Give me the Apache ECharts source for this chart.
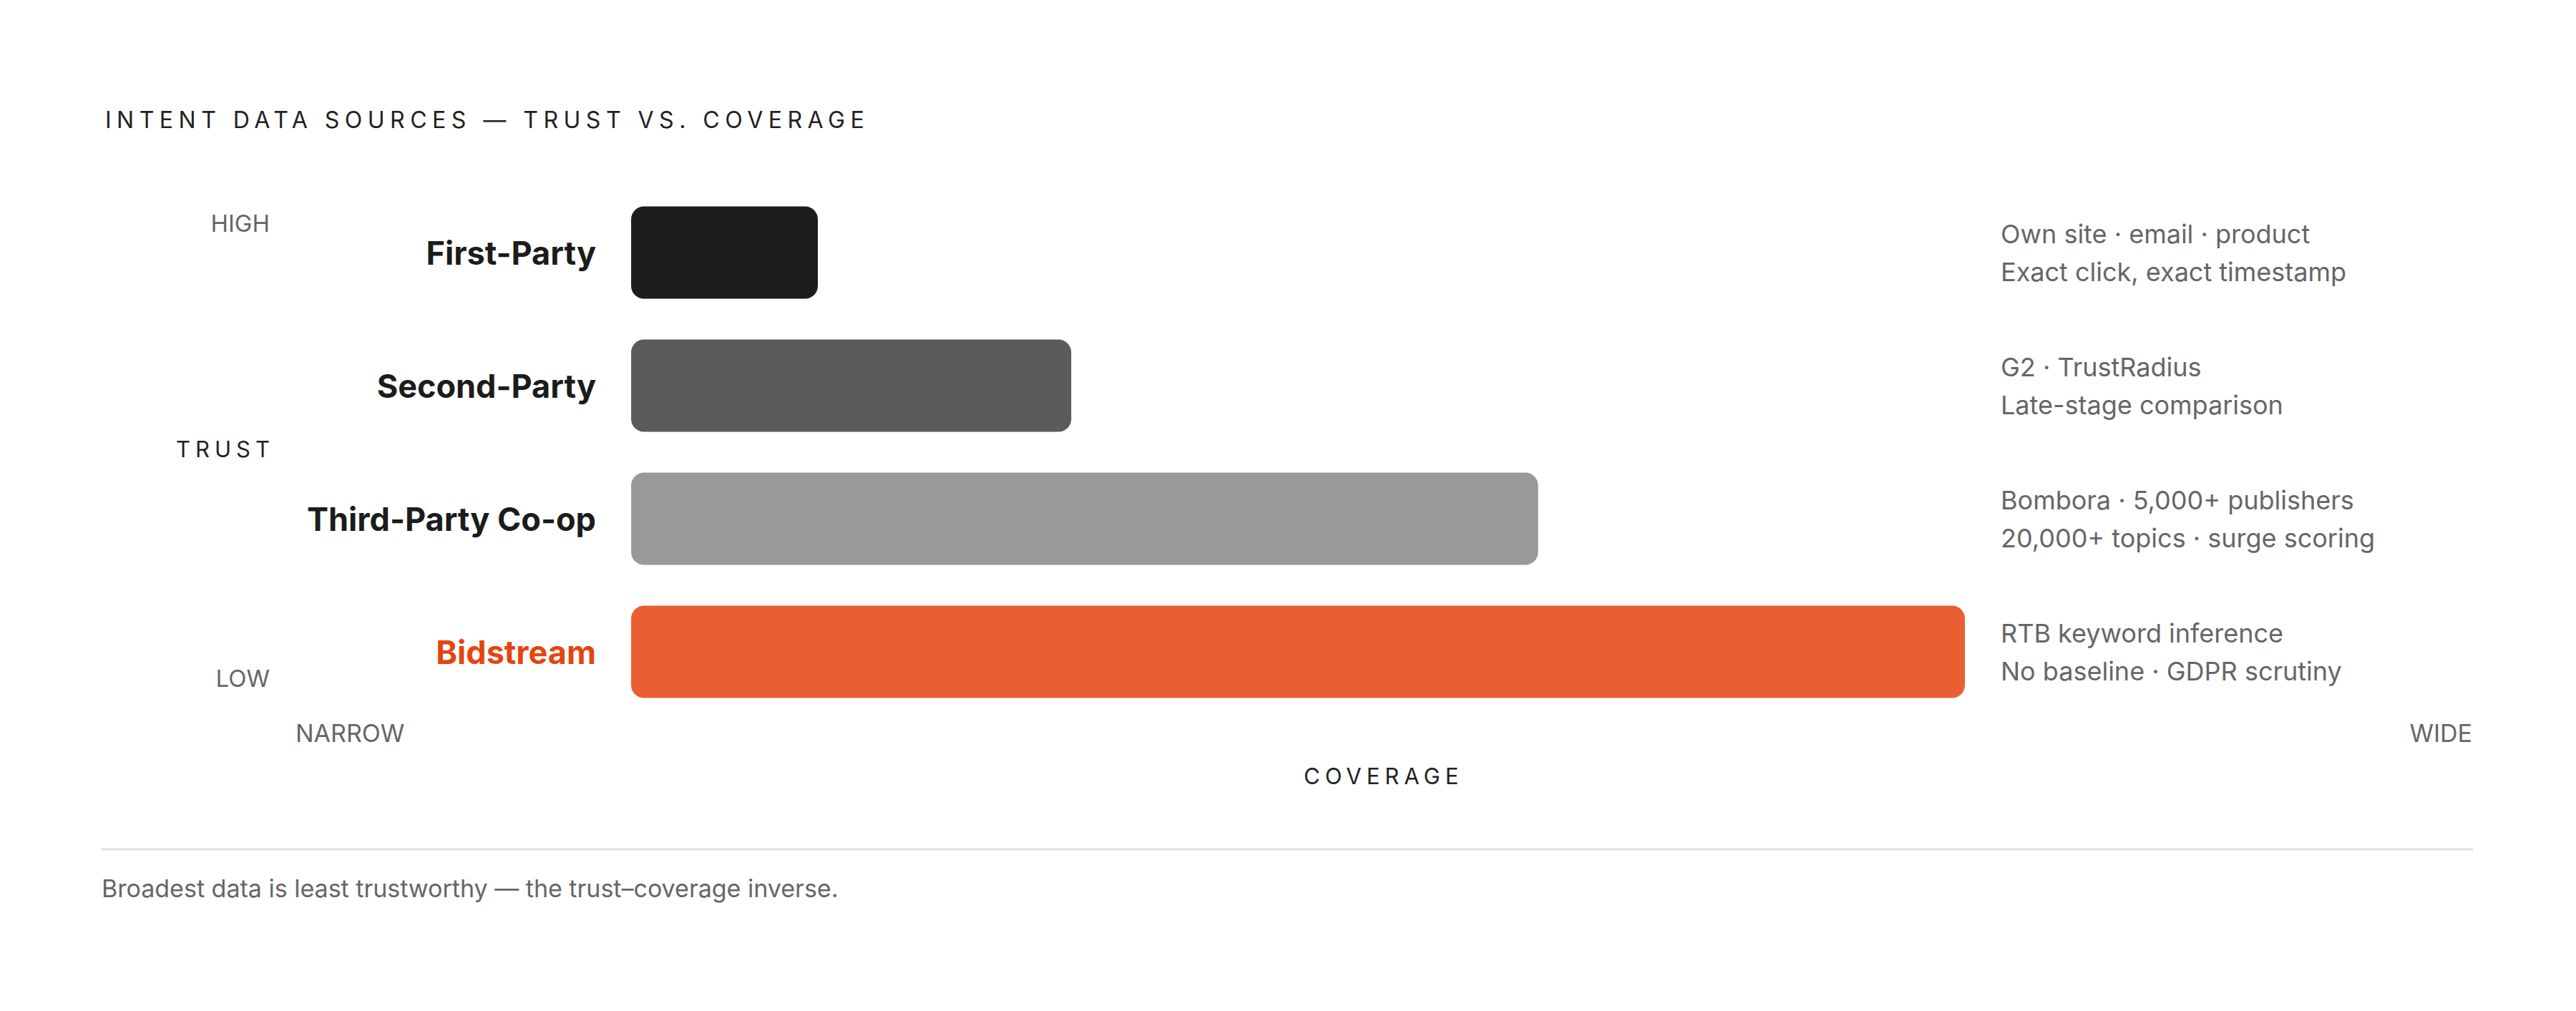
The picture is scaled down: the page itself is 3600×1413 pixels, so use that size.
<!DOCTYPE html>
<html>
<head>
<meta charset="utf-8">
<script src="https://cdn.jsdelivr.net/npm/echarts@6/dist/echarts.min.js"></script>
<style>
  html, body { margin: 0; padding: 0; background: #fff; }
  #main { width: 3600px; height: 1413px; }
</style>
</head>
<body>
<div id="main"></div>
<script>
// data
var sources = ['First-Party', 'Second-Party', 'Third-Party Co-op', 'Bidstream'];
var coverage = [14, 33, 68, 100];
var notesTop = ['Own site · email · product', 'G2 · TrustRadius', 'Bombora · 5,000+ publishers', 'RTB keyword inference'];
var notesBottom = ['Exact click, exact timestamp', 'Late-stage comparison', '20,000+ topics · surge scoring', 'No baseline · GDPR scrutiny'];

var barColors = ['#1e1d1c', '#5c5b5a', '#9a9998', '#e95f32'];
var FONT = 'Inter, "Noto Sans", sans-serif';
var TITLE = 'INTENT DATA SOURCES — TRUST VS. COVERAGE';

// tracked caps
var spaced = {};
spaced[TITLE] = '7.5px';
spaced['TRUST'] = '7px';
spaced['COVERAGE'] = '7px';

var myChart = echarts.init(document.getElementById('main'), null, { renderer: 'svg' });

var option = {
    animation: false,
    backgroundColor: '#ffffff',
    textStyle: { fontFamily: FONT },
    title: {
        text: TITLE,
        left: 142,
        top: 146,
        textStyle: { fontFamily: FONT, fontSize: 32, fontWeight: 'normal', color: '#222' }
    },
    grid: { left: 882, right: 854, top: 260, bottom: 1413 - 1004 },
    xAxis: {
        type: 'value',
        min: 0,
        max: 100,
        show: false
    },
    yAxis: [{
        type: 'category',
        data: sources,
        inverse: true,
        axisLine: { show: false },
        axisTick: { show: false },
        splitLine: { show: false },
        axisLabel: {
            margin: 49,
            fontFamily: FONT,
            fontSize: 45,
            fontWeight: 'bold',
            color: '#1c1c1c',
            formatter: function (v) {
                return v === 'Bidstream' ? '{hl|' + v + '}' : v;
            },
            rich: {
                hl: { fontFamily: FONT, fontSize: 45, fontWeight: 'bold', color: '#e4450f' }
            }
        }
    }, {
        type: 'category',
        data: sources,
        inverse: true,
        position: 'right',
        axisLine: { show: false },
        axisTick: { show: false },
        splitLine: { show: false },
        axisLabel: {
            margin: 50,
            align: 'left',
            fontFamily: FONT,
            fontSize: 36,
            lineHeight: 53,
            color: '#666',
            formatter: function (v, i) {
                return notesTop[i] + '\n' + notesBottom[i];
            }
        }
    }],
    series: [{
        type: 'bar',
        data: coverage.map(function (v, i) {
            return { value: v, itemStyle: { color: barColors[i] } };
        }),
        barWidth: 129,
        itemStyle: { borderRadius: 18 },
        silent: true
    }],
    graphic: [
        { type: 'text', right: 3600 - 377, top: 295, style: { text: 'HIGH', font: '33px ' + FONT, fill: '#666' } },
        { type: 'text', right: 3600 - 377, top: 931, style: { text: 'LOW', font: '33px ' + FONT, fill: '#666' } },
        { type: 'text', left: 246, top: 612, style: { text: 'TRUST', font: '31px ' + FONT, fill: '#222' } },
        { type: 'text', left: 413, top: 1007, style: { text: 'NARROW', font: '34px ' + FONT, fill: '#666' } },
        { type: 'text', right: 3600 - 3455, top: 1007, style: { text: 'WIDE', font: '34px ' + FONT, fill: '#666' } },
        { type: 'text', left: 1822, top: 1069, style: { text: 'COVERAGE', font: '31px ' + FONT, fill: '#222' } },
        {
            type: 'line',
            shape: { x1: 142, y1: 1187, x2: 3456, y2: 1187 },
            style: { stroke: '#e0e0e0', lineWidth: 3 }
        },
        {
            type: 'text', left: 142, top: 1224,
            style: { text: 'Broadest data is least trustworthy — the trust–coverage inverse.', font: '34px ' + FONT, fill: '#666' }
        }
    ]
};
myChart.setOption(option);

// letter-spacing on the svg text nodes
document.querySelectorAll('#main text').forEach(function (el) {
    var ls = spaced[el.textContent];
    if (ls) {
        el.setAttribute('letter-spacing', ls);
    }
});
</script>
</body>
</html>
